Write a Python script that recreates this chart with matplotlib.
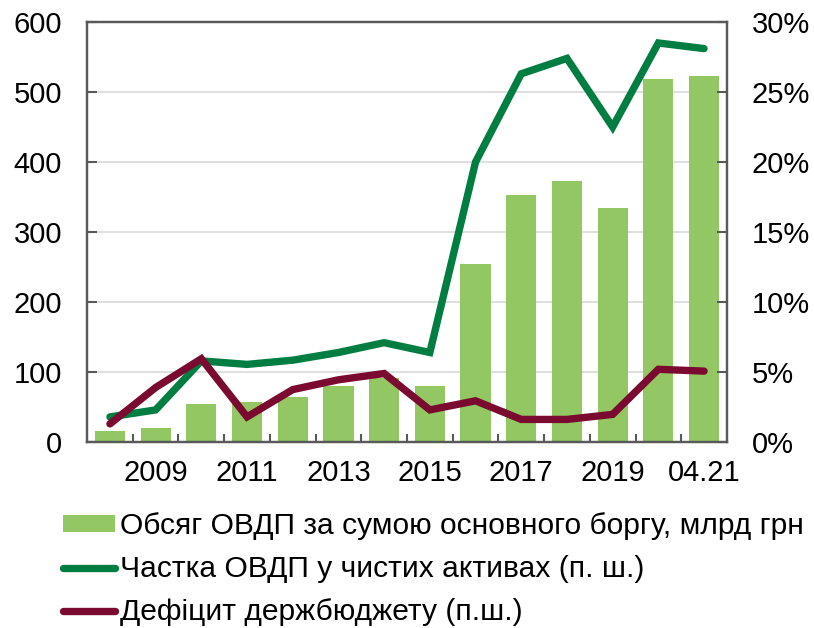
import numpy as np
import matplotlib
matplotlib.use("Agg")
import matplotlib.pyplot as plt

plt.rcParams['font.family'] = ['Liberation Sans', 'DejaVu Sans']

# categories
years = ['2008', '2009', '2010', '2011', '2012', '2013', '2014', '2015',
         '2016', '2017', '2018', '2019', '2020', '04.21']
tick_labels = ['', '2009', '', '2011', '', '2013', '', '2015',
               '', '2017', '', '2019', '', '04.21']

# volume of bonds, bn UAH
volume = [16, 20, 54, 57, 65, 80, 92, 80, 254, 353, 373, 335, 518, 523]
# share of bonds in net assets, %
share = [1.8, 2.3, 5.8, 5.55, 5.85, 6.4, 7.1, 6.4, 20.0, 26.3, 27.4, 22.5, 28.5, 28.1]
# budget deficit, %
deficit = [1.3, 3.9, 5.95, 1.8, 3.75, 4.45, 4.9, 2.3, 2.95, 1.62, 1.62, 1.98, 5.2, 5.07]

lbl_bar = 'Обсяг ОВДП за сумою основного боргу, млрд грн'
lbl_share = 'Частка ОВДП у чистих активах (п. ш.)'
lbl_def = 'Дефіцит держбюджету (п.ш.)'

bar_col = '#92c763'
green = '#007d40'
maroon = '#7a0a30'
spine_col = '#595959'
fs = 21

fig = plt.figure(figsize=(8.14, 6.28), dpi=100)
ax = fig.add_axes([0.107, 0.296, 0.786, 0.669])
ax2 = ax.twinx()

x = np.arange(len(years))
bars = ax.bar(x, volume, width=0.66, color=bar_col, zorder=2, label=lbl_bar)
l1, = ax2.plot(x, share, color=green, lw=5.3, solid_capstyle='round',
               solid_joinstyle='miter', label=lbl_share)
l2, = ax2.plot(x, deficit, color=maroon, lw=5.3, solid_capstyle='round',
               solid_joinstyle='miter', label=lbl_def)

ax.set_xlim(-0.5, len(years) - 0.5)
ax.set_ylim(0, 600)
ax.set_yticks(range(0, 601, 100))
ax2.set_ylim(0, 30)
ax2.set_yticks(range(0, 31, 5))
ax2.set_yticklabels([f'{v}%' for v in range(0, 31, 5)])

ax.yaxis.grid(True, color='#d9d9d9', lw=1.2, zorder=0)
ax.set_axisbelow(True)

ax.set_xticks(x)
ax.set_xticklabels(tick_labels)
ax.set_xticks(np.arange(0.5, len(years) - 1, 1), minor=True)
ax.tick_params(axis='x', which='major', length=0, pad=12, labelsize=fs)
ax.tick_params(axis='x', which='minor', direction='in', length=6, width=1.5,
               color=spine_col)
ax.tick_params(axis='y', direction='in', length=7, width=1.5, color=spine_col,
               labelsize=fs, pad=18)
ax2.tick_params(axis='y', direction='in', length=7, width=1.5, color=spine_col,
                labelsize=fs, pad=18)

for a in (ax, ax2):
    for s in a.spines.values():
        s.set_color(spine_col)
        s.set_linewidth(1.6)

fig.legend(handles=[bars, l1, l2], loc='upper left',
           bbox_to_anchor=(0.077, 0.184), frameon=False, fontsize=21.6,
           handlelength=1.75, handleheight=0.5, handletextpad=0.15,
           labelspacing=0.5, borderaxespad=0, borderpad=0)

fig.savefig('out.png', dpi=100)
